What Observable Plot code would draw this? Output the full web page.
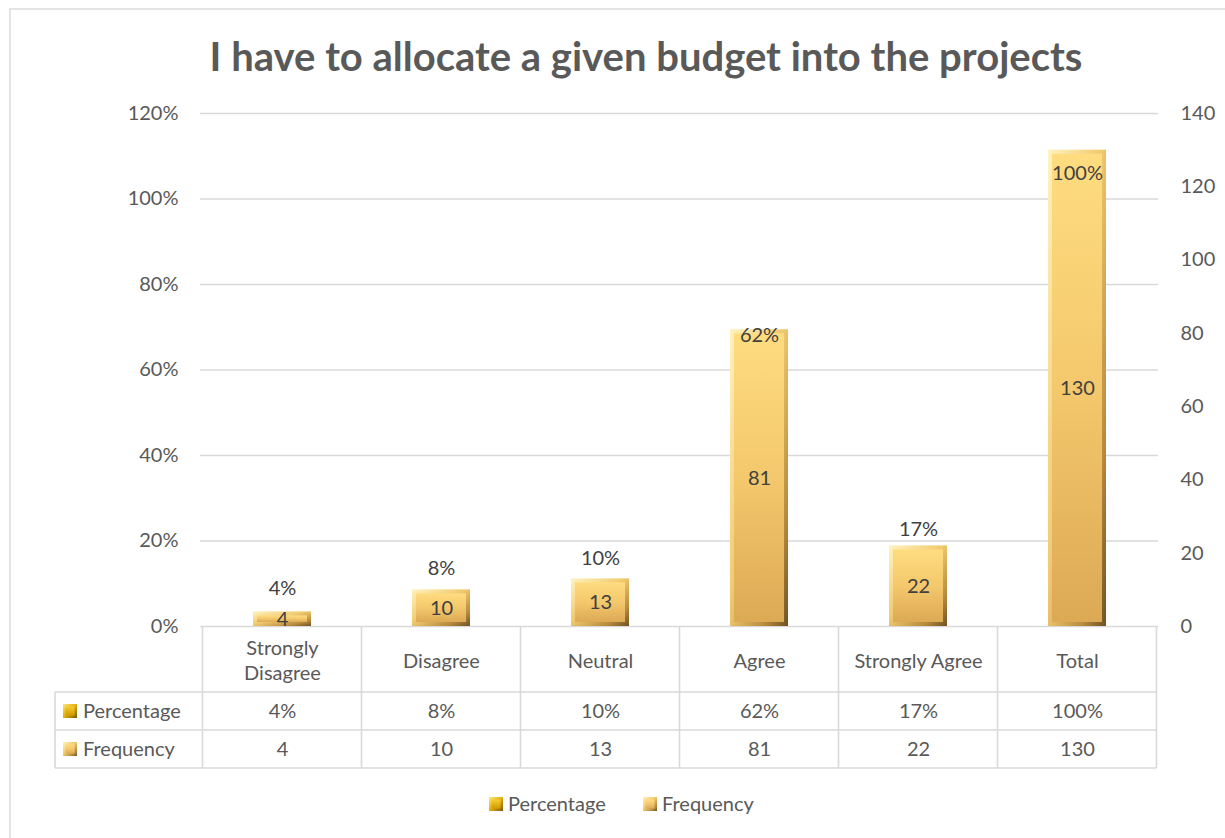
<!DOCTYPE html>
<html>
<head>
<meta charset="utf-8">
<script src="https://cdn.jsdelivr.net/npm/d3@7"></script>
<script src="https://cdn.jsdelivr.net/npm/@observablehq/plot@0.6"></script>
<style>
  html, body { margin: 0; padding: 0; background: #fff; }
  svg { display: block; }
</style>
</head>
<body>
<div id="chart"></div>
<script>
const categories = ["Strongly Disagree", "Disagree", "Neutral", "Agree", "Strongly Agree", "Total"];
const categoryLabels = ["Strongly\nDisagree", "Disagree", "Neutral", "Agree", "Strongly Agree", "Total"];
const percentage = [0.031, 0.077, 0.10, 0.623, 0.169, 1.0];
const percentageLabels = ["4%", "8%", "10%", "62%", "17%", "100%"];
const frequency = [4, 10, 13, 81, 22, 130];
const leftTicks = [0, 0.2, 0.4, 0.6, 0.8, 1.0, 1.2];
const rightTicks = [0, 20, 40, 60, 80, 100, 120, 140];
const seriesNames = ["Percentage", "Frequency"];
const titleText = "I have to allocate a given budget into the projects";

const leftMax = 1.2, rightMax = 140;
const toLeft = v => v / rightMax * leftMax;

const rows = categories.map((c, i) => ({
  cat: c, label: categoryLabels[i], pct: percentage[i], pctLabel: percentageLabels[i],
  freq: frequency[i], fy: toLeft(frequency[i])
}));

const W = 1225, H = 838;
const mTop = 113, mBottom = 212, mLeft = 200, mRight = 67;
const grey = "#595959";
const border = "#d9d9d9";
const font = "Lato, 'Open Sans', sans-serif";

const defs = () => {
  const d = d3.create("svg:defs");
  const lg = (id, x2, y2, stops) => {
    const g = d.append("linearGradient").attr("id", id)
      .attr("x1", 0).attr("y1", 0).attr("x2", x2).attr("y2", y2);
    stops.forEach(([o, c]) => g.append("stop").attr("offset", o).attr("stop-color", c));
  };
  lg("gFreqOuter", 1, 1, [[0, "#FFF3C0"], [0.45, "#F2CB70"], [0.8, "#B8893E"], [1, "#6E5224"]]);
  lg("gFreqInner", 0, 1, [[0, "#FFDC80"], [0.5, "#F4C86C"], [1, "#DCA955"]]);
  lg("gPctOuter", 1, 1, [[0, "#FFE680"], [0.5, "#E3AE10"], [1, "#7A5A00"]]);
  lg("gPctInner", 0, 1, [[0, "#F8CC30"], [1, "#D09A00"]]);
  return d.node();
};

const chart = Plot.plot({
  width: W, height: H,
  marginTop: mTop, marginBottom: mBottom, marginLeft: mLeft, marginRight: mRight,
  style: { fontFamily: font, fontSize: "20px", color: grey, background: "#fff" },
  x: { type: "band", domain: categories, paddingInner: 0.637, paddingOuter: 0.3185, axis: null },
  y: { domain: [0, leftMax], axis: null },
  marks: [
    defs,
    Plot.gridY(leftTicks, { stroke: border, strokeOpacity: 1, strokeWidth: 1.4 }),
    Plot.axisY(leftTicks, { anchor: "left", tickSize: 0, tickPadding: 22, label: null,
      tickFormat: d => Math.round(d * 100) + "%", fill: grey, fontSize: 20 }),
    Plot.axisY(rightTicks.map(toLeft), { anchor: "right", tickSize: 0, tickPadding: 22, label: null,
      tickFormat: d => String(Math.round(d / leftMax * rightMax)), fill: grey, fontSize: 20 }),
    // Percentage series (primary axis, drawn behind)
    Plot.barY(rows, { x: "cat", y: "pct", fill: "url(#gPctOuter)" }),
    Plot.barY(rows, { x: "cat", y: "pct", fill: "url(#gPctInner)", inset: 3 }),
    // Frequency series (secondary axis)
    Plot.barY(rows, { x: "cat", y: "fy", fill: "url(#gFreqOuter)" }),
    Plot.barY(rows, { x: "cat", y: "fy", fill: "url(#gFreqInner)", inset: 4 }),
    // Data labels
    Plot.text(rows, { x: "cat", y: "pct", text: "pctLabel", dy: -25, fill: "#404040", fontSize: 20 }),
    Plot.text(rows, { x: "cat", y: d => d.fy / 2, text: d => String(d.freq), fill: "#404040", fontSize: 20 }),
    // Data table rows
    Plot.text(rows, { x: "cat", text: "label", frameAnchor: "bottom", lineAnchor: "middle", dy: 33, lineHeight: 1.25, fill: grey, fontSize: 20 }),
    Plot.text(rows, { x: "cat", text: "pctLabel", frameAnchor: "bottom", lineAnchor: "middle", dy: 85, fill: grey, fontSize: 20 }),
    Plot.text(rows, { x: "cat", text: d => String(d.freq), frameAnchor: "bottom", lineAnchor: "middle", dy: 123, fill: grey, fontSize: 20 })
  ]
});

document.getElementById("chart").appendChild(chart);

// Table borders, title, legends and chart frame, placed from Plot's x scale
const svg = d3.select(chart);
const xs = chart.scale("x");
const step = xs.step;
const x0 = xs.apply(categories[0]) + xs.bandwidth / 2 - step / 2;
const yAxis = H - mBottom;
const r1 = 692, r2 = 730, r3 = 768;
const tableLeft = 55;
const xEnd = x0 + step * categories.length;

const g = svg.append("g").attr("stroke", border).attr("stroke-width", 1.6).attr("fill", "none");
[r1, r2, r3].forEach(y => g.append("line").attr("x1", tableLeft).attr("x2", xEnd).attr("y1", y).attr("y2", y));
for (let i = 0; i <= categories.length; i++) {
  const xx = x0 + step * i;
  g.append("line").attr("x1", xx).attr("x2", xx).attr("y1", yAxis).attr("y2", r3);
}
g.append("line").attr("x1", tableLeft).attr("x2", tableLeft).attr("y1", r1).attr("y2", r3);
// chart frame
g.append("rect").attr("x", 10).attr("y", 9).attr("width", 1400).attr("height", 1000).attr("stroke-width", 1.4);

// swatch helper
const swatch = (x, y, i) => {
  const outer = i === 0 ? "url(#gPctOuter)" : "url(#gFreqOuter)";
  const inner = i === 0 ? "url(#gPctInner)" : "url(#gFreqInner)";
  svg.append("rect").attr("x", x).attr("y", y).attr("width", 14).attr("height", 14).attr("fill", outer);
  svg.append("rect").attr("x", x + 2.5).attr("y", y + 2.5).attr("width", 9).attr("height", 9).attr("fill", inner);
};
const label = (x, y, t, size, weight, anchor) =>
  svg.append("text").attr("x", x).attr("y", y).attr("dy", "0.35em")
    .attr("text-anchor", anchor).attr("font-family", font).attr("font-size", size)
    .attr("font-weight", weight).attr("fill", grey).text(t);
// row headers
[[(r1 + r2) / 2, 0], [(r2 + r3) / 2, 1]].forEach(([cy, i]) => {
  swatch(63, cy - 7, i);
  label(83, cy, seriesNames[i], 20, "normal", "start");
});
// bottom legend
const legY = 804;
[[489, 0], [643, 1]].forEach(([lx, i]) => {
  swatch(lx, legY - 7, i);
  label(lx + 19, legY, seriesNames[i], 20, "normal", "start");
});
// title
label(646, 57, titleText, 40, "bold", "middle");
</script>
</body>
</html>
